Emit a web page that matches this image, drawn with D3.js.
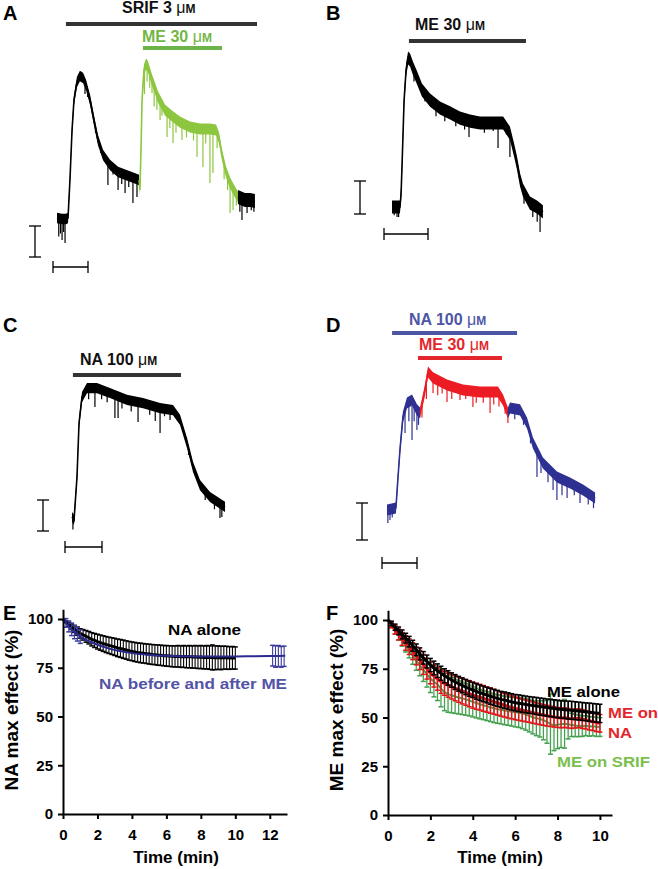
<!DOCTYPE html>
<html><head><meta charset="utf-8">
<script src="https://cdn.jsdelivr.net/npm/d3@7"></script>
<style>
body{margin:0;background:#fff;}
svg text{font-family:"Liberation Sans",Arial,Helvetica,sans-serif;font-weight:bold;}
</style></head><body>
<svg id="fig" width="658" height="869"></svg>
<script>
// ---------------- DATA ----------------
// Current traces: [time (min), current (pA)]
const traceA_black1 = [[0,0],[0.29,-0.6],[0.51,-0.6],[0.63,0],[0.74,24.5],[0.86,56.8],[0.97,76.1],[1.14,87.7],[1.31,91.6],[1.49,90.3],[1.66,85.8],[1.89,76.1],[2.11,63.2],[2.34,50.3],[2.63,40.6],[3.03,34.2],[3.49,29.7],[3.94,27.7],[4.40,25.8],[4.69,24.5]];
const traceA_green = [[4.69,24.5],[4.74,18.1],[4.80,43.9],[4.86,76.1],[4.97,95.5],[5.09,99.4],[5.20,97.4],[5.43,89.0],[5.77,78.1],[6.17,69.7],[6.57,65.8],[7.03,61.9],[7.60,58.7],[8.17,57.4],[8.74,57.4],[9.09,56.8],[9.26,51.6],[9.43,40.6],[9.66,29.7],[9.89,22.6],[10.17,16.8],[10.34,13.5]];
const traceA_black2 = [[10.34,13.5],[10.74,11.6],[11.03,11.6],[11.31,11.0]];
const spikesA_black1 = [[0.1,-12],[0.2,-10],[0.29,-14.2],[0.38,-9],[0.46,-16.1],[1.6,80],[1.75,78],[2.2,55],[2.5,42],[2.91,21.3],[3.2,28],[3.49,18.1],[3.7,22],[3.89,16.1],[4.1,20],[4.34,9.7],[4.57,13.5]];
const spikesA_green = [[5.0,80],[5.15,88],[5.3,84],[5.43,80.6],[5.55,72],[5.71,69.7],[5.89,63.2],[6.0,66],[6.29,52.3],[6.45,58],[6.63,48.4],[6.8,55],[7.14,50.3],[7.4,52],[7.8,50],[8.0,39.4],[8.34,32.9],[8.5,48],[8.74,22.6],[8.91,29.0],[9.15,45],[9.55,25],[9.75,18],[9.89,3.2],[10.06,5.2],[10.25,8]];
const spikesA_black2 = [[10.45,4],[10.57,-1.3],[10.86,3.2],[11.1,5],[11.25,4]];

const traceB = [[0,0],[0.36,0],[0.41,7.3],[0.45,22.4],[0.5,43.6],[0.55,64.8],[0.64,83.0],[0.73,90.3],[0.82,89.1],[0.95,84.2],[1.14,78.2],[1.36,70.9],[1.73,64.8],[2.18,60.0],[2.64,57.0],[3.09,53.9],[3.55,52.1],[4.0,50.9],[4.45,50.9],[5.05,50.9],[5.36,44.8],[5.55,34.5],[5.68,26.7],[5.82,16.4],[5.95,10.3],[6.27,2.4],[6.59,0],[6.86,-3.0]];
const spikesB = [[0.1,-5],[0.23,-6],[0.3,-6],[1.0,76],[1.5,64],[2.0,55],[2.4,52],[2.9,49],[3.3,47],[3.5,42.4],[4.2,45],[4.6,46],[4.82,35.8],[5.2,44],[5.36,30.3],[6.0,2],[6.4,-6],[6.6,-9],[6.73,-15.2]];

const traceC = [[0,0],[0.11,-1.9],[0.27,25.8],[0.38,60.6],[0.54,77.4],[0.81,83.2],[1.35,83.2],[2.05,80.0],[2.97,75.5],[3.84,73.5],[4.76,70.3],[5.46,69.0],[5.84,62.6],[6.22,47.7],[6.54,32.3],[6.92,20.6],[7.46,12.9],[8.27,6.5]];
const spikesC = [[0.05,-8],[0.9,76],[1.24,71],[1.6,76],[1.9,74],[2.32,63.9],[2.49,63.9],[2.7,70],[3.2,68],[3.57,61.3],[4.2,66],[4.5,62],[4.76,54.2],[5.0,65],[5.3,62.6],[6.3,40],[7.2,11],[7.7,5],[8.0,-0.6],[8.1,0]];

const traceD_blue1 = [[0,0],[0.51,1.1],[0.63,17.8],[0.74,32.4],[0.91,50.3],[1.14,57.8],[1.43,59.5],[1.71,54.1],[1.89,52.4]];
const traceD_red = [[1.89,52.4],[2.17,64.9],[2.34,74.6],[2.63,71.4],[3.43,67.6],[4.34,64.9],[5.31,63.8],[6.34,63.8],[6.63,59.5],[6.91,52.4]];
const traceD_blue2 = [[6.91,52.4],[7.03,55.1],[7.6,54.1],[8.0,47.0],[8.34,36.2],[8.91,25.4],[9.71,17.8],[10.46,14.6],[11.2,10.8],[11.89,6.5]];
const spikesD_blue1 = [[0.05,-7],[0.17,-5.4],[0.3,-4],[1.03,41.6],[1.25,48],[1.43,37.8],[1.55,48],[1.71,43.2],[1.8,46]];
const spikesD_red = [[2.0,50],[2.25,60],[2.63,63.2],[2.9,62],[3.15,63],[3.43,58.4],[3.7,60],[4.17,59.5],[4.5,60],[4.91,55.7],[5.1,58],[5.5,58],[5.89,52.4],[6.1,57],[6.4,56],[6.75,52],[6.91,47.0]];
const spikesD_blue2 = [[7.3,49],[7.8,46],[8.2,36],[8.57,17.8],[8.8,20],[9.2,15],[9.49,10.8],[9.71,5.4],[10.0,8],[10.29,6.5],[10.7,8],[11.03,3.8],[11.5,3],[11.8,1]];

// Drug application bars: [start min, end min]
const appA_srif = [0.51, 11.43];
const appA_me = [4.91, 9.43];
const appB_me = [0.77, 6.09];
const appC_na = [0.05, 5.89];
const appD_na = [0.29, 7.43];
const appD_me = [1.77, 6.57];

// Scale bars
const scaleBarMin = 2;
const scaleBarPA = 20;

// Normalized time courses (time in s, values in %)
const timeSec = [0,10,20,30,40,50,60,70,80,90,100,110,120,130,140,150,160,170,180,190,200,210,220,230,240,250,260,270,280,290,300,310,320,330,340,350,360,370,380,390,400,410,420,430,440,450,460,470,480,490,500,510,520,530,540,550,560,570,580,590,600];

const naAlone = [100,98.6,97.3,96.0,94.9,93.8,92.6,91.9,91.1,90.4,89.6,89.0,88.4,87.9,87.4,86.9,86.5,86.1,85.7,85.2,84.9,84.5,84.1,83.7,83.4,83.1,82.8,82.6,82.4,82.2,82.0,81.8,81.7,81.5,81.4,81.2,81.1,81.0,80.9,80.8,80.9,80.7,80.8,80.6,80.7,80.5,80.6,80.4,80.5,80.3,80.4,80.2,80.3,80.1,80.2,80.0,80.2,80.1,80.0,80.1,80.0];
const naAloneSem = [0,0.5,1.0,1.4,1.8,2.1,2.4,2.7,3.0,3.2,3.4,3.6,3.8,3.9,4.0,4.1,4.2,4.3,4.4,4.5,4.6,4.7,4.7,4.8,4.8,4.9,4.9,5.0,5.0,5.0,5.1,5.1,5.1,5.2,5.2,5.2,5.3,5.3,5.4,5.4,5.5,5.5,5.6,5.6,5.7,5.7,5.8,5.8,5.9,5.9,6.0,6.0,6.4,6.1,6.0,6.0,5.9,5.9,5.8,5.8,5.7];

const naMixFitMin = [0,0.5,1,1.5,2,2.5,3,4,5,6,7,8,9,10,11,12,12.9];
const naMixFit = [100,94.5,91,88.6,86.8,85.3,84.1,82.5,81.6,81.1,80.9,80.8,80.8,80.8,80.9,81.0,81.1];
const naMixEarlySec = [10,20,30,40,50,60];
const naMixEarly = [98.0,96.2,94.7,93.3,92.2,91.0];
const naMixEarlySem = [2.2,2.8,3.2,3.4,3.5,3.5];
const naMixLateSec = [730,740,750,760,770];
const naMixLate = [81.2,80.8,81.0,80.6,80.9];
const naMixLateSem = [5.3,5.5,5.4,5.3,5.2];

const meAlone = [100,98.2,96.3,94.4,92.6,90.7,88.9,86.8,84.7,82.6,80.6,78.7,76.9,75.4,74.0,72.7,71.4,70.3,69.2,68.2,67.3,66.5,65.6,64.8,64.1,63.4,62.7,62.1,61.5,60.9,60.3,59.8,59.3,58.9,58.5,58.0,57.6,57.3,57.0,56.7,56.4,56.2,55.9,55.6,55.4,55.1,54.9,54.6,54.4,54.2,54.0,53.8,53.7,53.5,53.3,53.1,52.9,52.7,52.5,52.3,52.1];
const meAloneSem = [0,1.2,1.6,2.0,2.3,2.5,2.7,2.8,3.0,3.1,3.2,3.3,3.4,3.5,3.5,3.6,3.6,3.7,3.7,3.8,3.8,3.8,3.9,3.9,3.9,4.0,4.0,4.0,4.0,4.1,4.1,4.1,4.1,4.2,4.2,4.2,4.2,4.3,4.3,4.3,4.3,4.3,4.4,4.4,4.4,4.4,4.5,4.5,4.5,4.5,4.5,4.6,4.6,4.6,4.6,4.6,4.6,4.7,4.7,4.7,4.7];
const meOnNA = [100,97.5,95.0,92.6,90.3,88.2,86.3,84.0,81.6,79.5,77.2,75.0,72.8,71.2,69.8,68.4,67.5,66.6,65.8,65.0,64.3,63.6,62.9,62.2,61.5,60.9,60.4,59.8,59.2,58.7,58.1,57.5,56.9,56.3,55.7,55.2,54.7,54.2,53.8,53.4,53.0,52.5,52.1,51.7,51.3,50.9,50.6,50.3,50.0,49.8,49.9,49.6,49.3,49.5,49.6,49.2,48.8,48.3,47.9,47.4,47.0];
const meOnNASem = [0,1.5,2.2,2.8,3.3,3.7,4.0,4.3,4.6,4.9,5.1,5.3,5.5,5.6,5.8,6.0,6.1,6.2,6.3,6.4,6.5,6.6,6.6,6.7,6.7,6.7,6.6,6.6,6.5,6.5,6.4,6.3,6.2,6.1,6.0,5.9,5.8,5.7,5.6,5.6,5.5,5.5,5.4,5.4,5.3,5.3,5.2,5.2,5.1,5.1,5.0,5.0,4.9,4.9,4.8,4.8,4.7,4.7,4.6,4.6,4.5];
const meOnSRIF = [100,97.3,94.8,92.2,89.6,87.0,84.4,81.6,79.0,76.8,74.5,72.2,70.0,68.3,66.9,64.8,63.0,62.0,61.4,60.8,60.3,59.8,59.3,58.7,58.0,57.4,56.8,56.3,55.8,55.2,54.7,54.3,54.0,53.6,53.3,53.0,52.7,52.5,52.1,51.5,50.9,50.1,49.6,49.3,48.6,47.8,46.6,46.0,46.3,46.6,46.8,46.5,46.2,45.9,45.7,45.6,45.8,45.4,45.5,45.2,45.1];
const meOnSRIFSem = [0,1.2,2.0,2.6,3.0,3.4,3.8,4.3,4.8,5.4,6.0,6.6,7.2,7.7,8.2,9.3,9.5,9.3,9.0,8.7,8.5,8.3,8.1,7.9,7.7,7.6,7.5,7.4,7.4,7.3,7.3,7.3,7.3,7.3,7.3,7.4,7.5,7.6,7.8,8.0,8.3,8.5,8.9,9.3,10.0,11.0,15.4,13.0,12.3,12.0,12.5,7.5,6.0,5.7,5.5,5.3,5.1,5.0,4.9,4.9,4.8];

const yTicks = [0,25,50,75,100];
const xTicksE = [0,2,4,6,8,10,12];
const xTicksF = [0,2,4,6,8,10];

// ---------------- DRAWING ----------------
const svg = d3.select('#fig');
const BLACK = '#000', GREEN_TR = '#8dc63f', GREEN_TXT = '#74b646', BLUE_TR = '#2e3192', BLUE_TXT = '#4d56a5', RED = '#ec1c24';

function panelLetter(x, y, s) {
  svg.append('text').attr('x', x).attr('y', y).style('font-size', '20px').text(s);
}
function drugLabel(x, y, main, color) {
  const t = svg.append('text').attr('x', x).attr('y', y).attr('fill', color).style('font-size', '16px');
  t.append('tspan').text(main + ' ');
  t.append('tspan').style('font-weight', 'normal').text('\u03bc');
  t.append('tspan').style('font-size', '12px').text('M');
}
function appBar(x, yPix, range, color) {
  svg.append('line').attr('x1', x(range[0])).attr('x2', x(range[1]))
    .attr('y1', yPix).attr('y2', yPix).attr('stroke', color).attr('stroke-width', 4);
}
function interp(seg, t) {
  for (let i = 0; i < seg.length - 1; i++) {
    if (t >= seg[i][0] && t <= seg[i + 1][0]) {
      const f = (t - seg[i][0]) / (seg[i + 1][0] - seg[i][0] || 1);
      return seg[i][1] + f * (seg[i + 1][1] - seg[i][1]);
    }
  }
  return seg[seg.length - 1][1];
}
function drawTrace(x, y, seg, spikes, color, noise) {
  const g = svg.append('g');
  const area = d3.area().x(d => x(d[0])).y0(d => y(d[1] - noise)).y1(d => y(d[1] + noise));
  g.append('path').attr('d', area(seg)).attr('fill', color);
  const line = d3.line().x(d => x(d[0])).y(d => y(d[1]));
  g.append('path').attr('d', line(seg)).attr('fill', 'none').attr('stroke', color).attr('stroke-width', 1.6);
  spikes.forEach(s => {
    g.append('line').attr('x1', x(s[0])).attr('x2', x(s[0]))
      .attr('y1', y(interp(seg, s[0]))).attr('y2', y(s[1]))
      .attr('stroke', color).attr('stroke-width', 1.2);
  });
}
function scaleBars(x, y, vx, vyBottom, hx, hy) {
  const vLen = y(0) - y(scaleBarPA);
  const hLen = x(scaleBarMin) - x(0);
  const g = svg.append('g').attr('stroke', '#000').attr('stroke-width', 1.3);
  g.append('line').attr('x1', vx).attr('x2', vx).attr('y1', vyBottom).attr('y2', vyBottom - vLen);
  g.append('line').attr('x1', vx - 6).attr('x2', vx + 6).attr('y1', vyBottom).attr('y2', vyBottom);
  g.append('line').attr('x1', vx - 6).attr('x2', vx + 6).attr('y1', vyBottom - vLen).attr('y2', vyBottom - vLen);
  g.append('line').attr('x1', hx).attr('x2', hx + hLen).attr('y1', hy).attr('y2', hy);
  g.append('line').attr('x1', hx).attr('x2', hx).attr('y1', hy - 6).attr('y2', hy + 6);
  g.append('line').attr('x1', hx + hLen).attr('x2', hx + hLen).attr('y1', hy - 6).attr('y2', hy + 6);
}

// Panel A
panelLetter(3, 20, 'A');
const xA = d3.scaleLinear().domain([0, 2]).range([57, 92]);
const yA = d3.scaleLinear().domain([0, 20]).range([218, 187]);
drugLabel(122, 13, 'SRIF 3', '#111');
appBar(xA, 24, appA_srif, '#333');
drugLabel(142, 42, 'ME 30', GREEN_TXT);
appBar(xA, 48, appA_me, '#6db34a');
drawTrace(xA, yA, traceA_black1, spikesA_black1, BLACK, 3.4);
drawTrace(xA, yA, traceA_green, spikesA_green, GREEN_TR, 3.6);
drawTrace(xA, yA, traceA_black2, spikesA_black2, BLACK, 4.5);
scaleBars(xA, yA, 35, 257, 53, 267);

// Panel B
panelLetter(326, 20, 'B');
const xB = d3.scaleLinear().domain([0, 2]).range([392, 436]);
const yB = d3.scaleLinear().domain([0, 20]).range([207, 174]);
drugLabel(415, 30, 'ME 30', '#111');
appBar(xB, 41, appB_me, '#333');
drawTrace(xB, yB, traceB, spikesB, BLACK, 4.0);
scaleBars(xB, yB, 360, 214, 384, 234);

// Panel C
panelLetter(3, 332, 'C');
const xC = d3.scaleLinear().domain([0, 2]).range([72, 109]);
const yC = d3.scaleLinear().domain([0, 20]).range([517, 486]);
drugLabel(80, 365, 'NA 100', '#111');
appBar(xC, 375, appC_na, '#333');
drawTrace(xC, yC, traceC, spikesC, BLACK, 3.3);
scaleBars(xC, yC, 43, 531, 65, 547);

// Panel D
panelLetter(326, 332, 'D');
const xD = d3.scaleLinear().domain([0, 2]).range([387, 422]);
const yD = d3.scaleLinear().domain([0, 20]).range([510, 473]);
drugLabel(409, 325, 'NA 100', BLUE_TXT);
appBar(xD, 333, appD_na, '#4d56a5');
drugLabel(419, 350, 'ME 30', '#e3262b');
appBar(xD, 358, appD_me, '#e3262b');
drawTrace(xD, yD, traceD_blue1, spikesD_blue1, BLUE_TR, 3.0);
drawTrace(xD, yD, traceD_red, spikesD_red, RED, 3.0);
drawTrace(xD, yD, traceD_blue2, spikesD_blue2, BLUE_TR, 3.0);
scaleBars(xD, yD, 362, 540, 382, 563);

// Graph helpers
function axes(x, y, yx, xy, xTicks, xTitle, xTitleX, yTitle, yTitleX) {
  const gx = svg.append('g').attr('transform', `translate(0,${xy})`)
    .call(d3.axisBottom(x).tickValues(xTicks).tickSize(5).tickSizeOuter(0).tickPadding(10));
  const gy = svg.append('g').attr('transform', `translate(${yx},0)`)
    .call(d3.axisLeft(y).tickValues(yTicks).tickSize(5).tickSizeOuter(0).tickPadding(5));
  [gx, gy].forEach(g => {
    g.selectAll('path,line').attr('stroke', '#000').attr('stroke-width', 2);
    g.selectAll('text').attr('fill', '#000').style('font-size', '15px')
      .style('font-family', '"Liberation Sans",Arial,sans-serif').style('font-weight', 'bold');
  });
  svg.append('text').attr('x', xTitleX).attr('y', 863).attr('text-anchor', 'middle')
    .style('font-size', '17px').text(xTitle);
  svg.append('text').attr('transform', `translate(${yTitleX},710) rotate(-90)`).attr('text-anchor', 'middle')
    .style('font-size', '19px').text(yTitle);
}
function errSeries(x, y, tMin, vals, sems, color, lw, bw) {
  const g = svg.append('g').attr('stroke', color);
  tMin.forEach((t, i) => {
    const e = sems[i];
    if (!e) return;
    const px = x(t);
    g.append('line').attr('x1', px).attr('x2', px).attr('y1', y(vals[i] - e)).attr('y2', y(vals[i] + e)).attr('stroke-width', bw);
    g.append('line').attr('x1', px - 2.5).attr('x2', px + 2.5).attr('y1', y(vals[i] - e)).attr('y2', y(vals[i] - e)).attr('stroke-width', 1.5);
    g.append('line').attr('x1', px - 2.5).attr('x2', px + 2.5).attr('y1', y(vals[i] + e)).attr('y2', y(vals[i] + e)).attr('stroke-width', 1.5);
  });
  const line = d3.line().x((d, i) => x(tMin[i])).y(d => y(d));
  svg.append('path').attr('d', line(vals)).attr('fill', 'none').attr('stroke', color).attr('stroke-width', lw);
}

const tMin = timeSec.map(s => s / 60);

// Panel E
panelLetter(3, 620, 'E');
const xE = d3.scaleLinear().domain([0, 13]).range([63, 287]);
const yE = d3.scaleLinear().domain([0, 105]).range([814, 609.25]);
errSeries(xE, yE, tMin, naAlone, naAloneSem, '#000', 3, 1.1);
errSeries(xE, yE, naMixEarlySec.map(s => s / 60), naMixEarly, naMixEarlySem, '#3a3a9a', 0, 1.1);
errSeries(xE, yE, naMixLateSec.map(s => s / 60), naMixLate, naMixLateSem, '#3a3a9a', 0, 1.1);
svg.append('path').attr('d', d3.line().x((d, i) => xE(naMixFitMin[i])).y(d => yE(d)).curve(d3.curveMonotoneX)(naMixFit))
  .attr('fill', 'none').attr('stroke', '#2b2a8e').attr('stroke-width', 2);
axes(xE, yE, 63, 814, xTicksE, 'Time (min)', 176, 'NA max effect (%)', 18);
svg.append('text').attr('x', 168).attr('y', 635).style('font-size', '15px')
  .attr('textLength', 73).attr('lengthAdjust', 'spacingAndGlyphs').text('NA alone');
svg.append('text').attr('x', 99).attr('y', 689).style('font-size', '15px').attr('fill', '#5353a6')
  .attr('textLength', 188).attr('lengthAdjust', 'spacingAndGlyphs').text('NA before and after ME');

// Panel F
panelLetter(326, 620, 'F');
const xF = d3.scaleLinear().domain([0, 10.57]).range([388, 612]);
const yF = d3.scaleLinear().domain([0, 105]).range([815, 610.25]);
errSeries(xF, yF, tMin, meOnSRIF, meOnSRIFSem, '#44a04e', 2, 1.3);
errSeries(xF, yF, tMin, meOnNA, meOnNASem, '#e3151b', 3, 1.5);
errSeries(xF, yF, tMin, meAlone, meAloneSem, '#000', 3, 1.7);
axes(xF, yF, 388, 815, xTicksF, 'Time (min)', 500, 'ME max effect (%)', 343);
svg.append('text').attr('x', 547).attr('y', 697).style('font-size', '15px')
  .attr('textLength', 73).attr('lengthAdjust', 'spacingAndGlyphs').text('ME alone');
svg.append('text').attr('x', 608).attr('y', 718).style('font-size', '15px').attr('fill', '#e3262b')
  .attr('textLength', 50).attr('lengthAdjust', 'spacingAndGlyphs').text('ME on');
svg.append('text').attr('x', 608).attr('y', 738).style('font-size', '15px').attr('fill', '#e3262b')
  .attr('textLength', 24).attr('lengthAdjust', 'spacingAndGlyphs').text('NA');
svg.append('text').attr('x', 557).attr('y', 767).style('font-size', '15px').attr('fill', '#7cbf4e')
  .attr('textLength', 93).attr('lengthAdjust', 'spacingAndGlyphs').text('ME on SRIF');
</script>
</body></html>
